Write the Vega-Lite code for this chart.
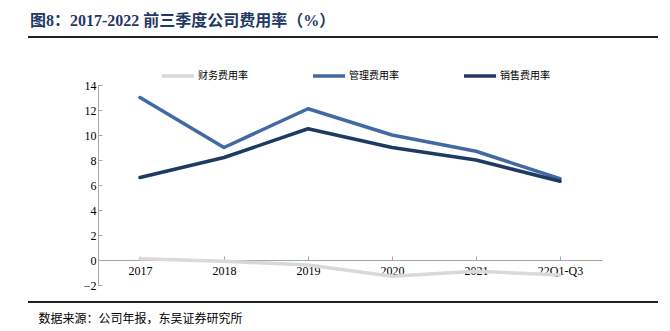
{
  "$schema": "https://vega.github.io/schema/vega-lite/v6.json",
  "autosize": "none",
  "width": 504,
  "height": 200,
  "padding": {"left": 98, "top": 85, "right": 68, "bottom": 46},
  "background": "white",
  "config": {"view": {"stroke": null}, "axisY": {"labelOverlap": false}},
  "title": {
    "text": "图8：2017-2022 前三季度公司费用率（%）",
    "anchor": "start",
    "frame": "group",
    "dx": -68,
    "offset": 7,
    "font": "Liberation Serif, Noto Sans CJK SC",
    "fontSize": 16,
    "fontWeight": "bold",
    "color": "#1f3864"
  },
  "data": {
    "values": [
      {"period": "2017", "series": "财务费用率", "value": 0.1},
      {"period": "2018", "series": "财务费用率", "value": -0.1},
      {"period": "2019", "series": "财务费用率", "value": -0.4},
      {"period": "2020", "series": "财务费用率", "value": -1.3},
      {"period": "2021", "series": "财务费用率", "value": -0.9},
      {"period": "22Q1-Q3", "series": "财务费用率", "value": -1.2},
      {"period": "2017", "series": "管理费用率", "value": 13.0},
      {"period": "2018", "series": "管理费用率", "value": 9.0},
      {"period": "2019", "series": "管理费用率", "value": 12.1},
      {"period": "2020", "series": "管理费用率", "value": 10.0},
      {"period": "2021", "series": "管理费用率", "value": 8.7},
      {"period": "22Q1-Q3", "series": "管理费用率", "value": 6.5},
      {"period": "2017", "series": "销售费用率", "value": 6.6},
      {"period": "2018", "series": "销售费用率", "value": 8.2},
      {"period": "2019", "series": "销售费用率", "value": 10.5},
      {"period": "2020", "series": "销售费用率", "value": 9.0},
      {"period": "2021", "series": "销售费用率", "value": 8.0},
      {"period": "22Q1-Q3", "series": "销售费用率", "value": 6.3}
    ]
  },
  "layer": [
    {
      "mark": {"type": "line", "strokeWidth": 3.5, "strokeJoin": "round", "strokeCap": "round"},
      "encoding": {
        "x": {
          "field": "period",
          "type": "nominal",
          "sort": null,
          "scale": {"paddingInner": 0, "paddingOuter": 0},
          "axis": {
            "offset": -25,
            "labelAngle": 0,
            "labelFont": "Liberation Serif",
            "labelFontSize": 12,
            "labelColor": "#000000",
            "labelPadding": 9,
            "domainColor": "#a6a6a6",
            "tickColor": "#a6a6a6",
            "tickSize": -4,
            "bandPosition": 0,
            "title": "数据来源：公司年报，东吴证券研究所",
            "titleFont": "Noto Sans CJK SC",
            "titleFontSize": 12,
            "titleFontWeight": "normal",
            "titleColor": "#000000",
            "titleAnchor": "start",
            "titleAlign": "left",
            "titleBaseline": "middle",
            "titleX": -60,
            "titleY": 58
          }
        },
        "y": {
          "field": "value",
          "type": "quantitative",
          "scale": {"domain": [-2, 14], "nice": false, "zero": false},
          "axis": {
            "values": [-2, 0, 2, 4, 6, 8, 10, 12, 14],
            "labelOverlap": false,
            "grid": false,
            "title": null,
            "labelFont": "Liberation Serif",
            "labelFontSize": 12,
            "labelColor": "#000000",
            "labelPadding": 6,
            "domainColor": "#a6a6a6",
            "tickColor": "#a6a6a6",
            "tickSize": -4
          }
        },
        "color": {
          "field": "series",
          "type": "nominal",
          "scale": {
            "domain": ["财务费用率", "管理费用率", "销售费用率"],
            "range": ["#d9d9d9", "#4169a3", "#1f3a62"]
          },
          "legend": {
            "title": null,
            "orient": "none",
            "direction": "horizontal",
            "legendX": 62,
            "legendY": -27,
            "symbolType": "stroke",
            "symbolSize": 1024,
            "symbolStrokeWidth": 3.5,
            "labelFont": "Noto Sans CJK SC",
            "labelFontSize": 10,
            "labelColor": "#000000",
            "labelOffset": 2,
            "columnPadding": 58
          }
        }
      }
    },
    {
      "data": {"values": [{"pos": 17.84}, {"pos": -3.36}]},
      "mark": {"type": "rule", "color": "#222222", "strokeWidth": 2, "clip": false},
      "encoding": {
        "y": {
          "field": "pos",
          "type": "quantitative",
          "scale": {"domain": [-2, 14], "nice": false, "zero": false},
          "axis": {
            "values": [-2, 0, 2, 4, 6, 8, 10, 12, 14],
            "labelOverlap": false,
            "grid": false,
            "title": null,
            "labelFont": "Liberation Serif",
            "labelFontSize": 12,
            "labelColor": "#000000",
            "labelPadding": 6,
            "domainColor": "#a6a6a6",
            "tickColor": "#a6a6a6",
            "tickSize": -4
          }
        },
        "x": {"value": -70},
        "x2": {"value": 560}
      }
    }
  ]
}
